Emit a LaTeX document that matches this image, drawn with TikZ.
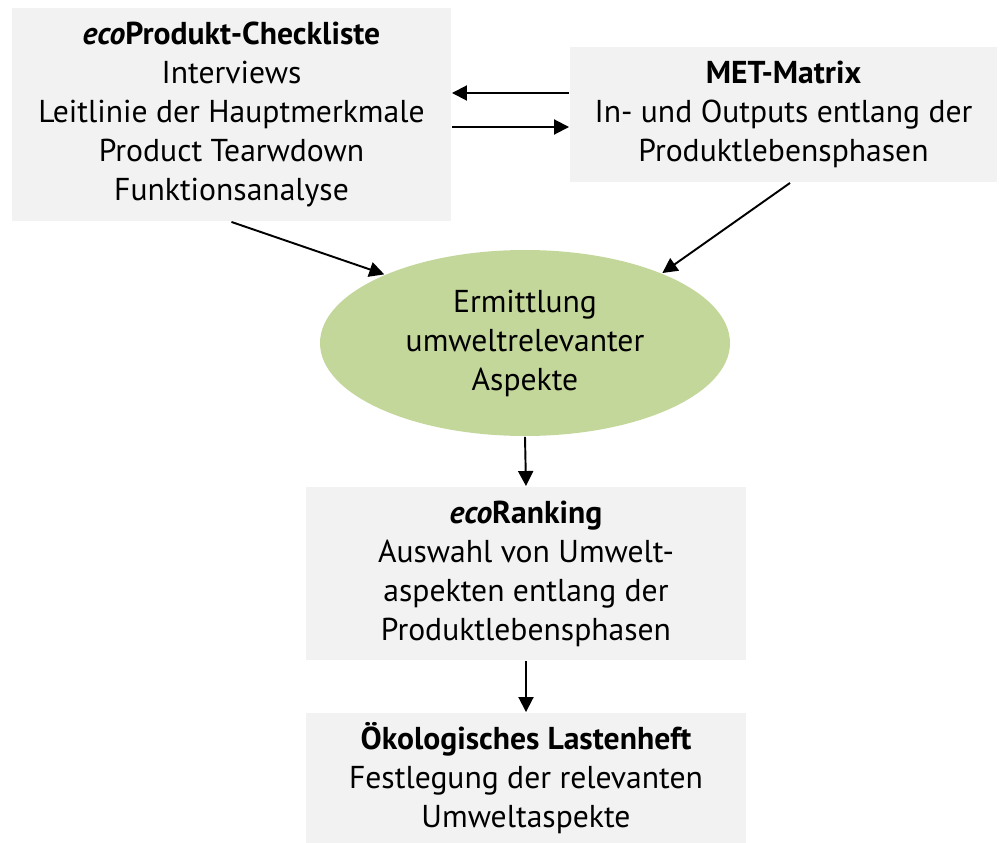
\documentclass[tikz,border=0pt]{standalone}
\usepackage{fontspec}
\setmainfont{PT Sans}
\usepackage{xcolor}
\usetikzlibrary{arrows.meta,calc,positioning,shapes.geometric}
\definecolor{boxgray}{RGB}{242,242,242}
\definecolor{ellgreen}{RGB}{196,215,155}

\begin{document}
\begin{tikzpicture}[font=\fontsize{18}{22.2}\selectfont,
  box/.style={fill=boxgray,align=center,minimum width=#1,inner sep=0pt},
  box/.default=88mm,
  ell/.style={ellipse,fill=ellgreen,align=center,minimum width=82mm,minimum height=37.2mm,inner sep=0pt},
  >={Triangle[length=3mm,width=3mm]}, line width=1.1pt]
  \useasboundingbox (0,0) rectangle (20,-16.86);
  \node[box=87.8mm,minimum height=42.6mm] (check) at (4.63,-2.29)
    {\textbf{\textit{eco}Produkt-Checkliste}\\Interviews\\Leitlinie der Hauptmerkmale\\Product Tearwdown\\Funktionsanalyse};
  \node[box=85.4mm,minimum height=27mm] (met) at (15.67,-2.29)
    {\textbf{MET-Matrix}\\In- und Outputs entlang der\\Produktlebensphasen};
  \node[ell] (aspekte) at (10.5,-6.86) {Ermittlung\\umweltrelevanter\\Aspekte};
  \node[box,minimum height=34.6mm] (ranking) at (10.52,-11.47)
    {\textbf{\textit{eco}Ranking}\\Auswahl von Umwelt-\\aspekten entlang der\\Produktlebensphasen};
  \node[box,minimum height=26mm] (lastenheft) at (10.52,-15.56)
    {\textbf{Ökologisches Lastenheft}\\Festlegung der relevanten\\Umweltaspekte};
  \draw[->] ([yshift=4.3mm]met.west) -- ([yshift=4.3mm]check.east);
  \draw[->] ([yshift=-2.5mm]check.east) -- ([yshift=-2.5mm]met.west);
  \draw[->] (check.south) -- (aspekte.154);
  \draw[->] ([xshift=1.3mm]met.south) -- (aspekte.27);
  \draw[->] (aspekte.south) -- (ranking.north);
  \draw[->] (ranking.south) -- (lastenheft.north);
\end{tikzpicture}
\end{document}
